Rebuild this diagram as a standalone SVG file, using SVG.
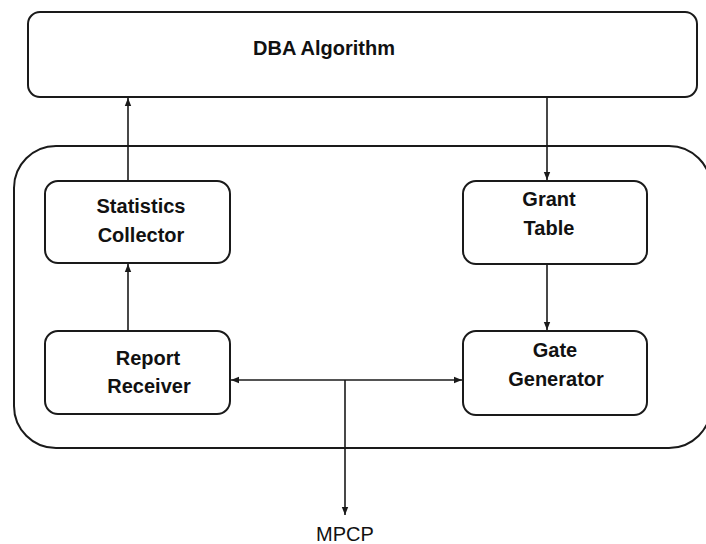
<svg xmlns="http://www.w3.org/2000/svg" width="706" height="544" viewBox="0 0 706 544">
  <style>
    .box { fill: #ffffff; stroke: #1a1a1a; stroke-width: 2; }
    .lbl { font-family: "Liberation Sans", Arial, sans-serif; font-weight: bold; font-size: 20px; fill: #111111; text-anchor: middle; }
    .ext { font-family: "Liberation Sans", Arial, sans-serif; font-size: 20px; fill: #111111; text-anchor: middle; }
    .wire { fill: none; stroke: #1a1a1a; stroke-width: 1.6; }
  </style>
  <defs>
    <marker id="head" viewBox="0 0 8 8" refX="8" refY="4" markerWidth="8" markerHeight="8" markerUnits="userSpaceOnUse" orient="auto-start-reverse">
      <path d="M0,0.8 L8,4 L0,7.2 Z" fill="#1a1a1a"/>
    </marker>
  </defs>

  <rect width="706" height="544" fill="#ffffff"/>

  <!-- OLT controller enclosure -->
  <g id="controller">
    <rect class="box" x="14" y="146" width="697" height="302" rx="42" ry="42"/>
  </g>

  <g id="dba">
    <rect class="box" x="28" y="12" width="669" height="85" rx="12" ry="12"/>
    <text class="lbl" x="324" y="55" font-size="21">DBA Algorithm</text>
  </g>

  <g id="stats">
    <rect class="box" x="45" y="181" width="185" height="82" rx="13" ry="13"/>
    <text class="lbl" x="141" y="213">Statistics</text>
    <text class="lbl" x="141" y="242">Collector</text>
  </g>

  <g id="report">
    <rect class="box" x="45" y="331" width="185" height="83" rx="13" ry="13"/>
    <text class="lbl" x="148" y="365">Report</text>
    <text class="lbl" x="149" y="393">Receiver</text>
  </g>

  <g id="grant">
    <rect class="box" x="463" y="181" width="184" height="83" rx="13" ry="13"/>
    <text class="lbl" x="549" y="206">Grant</text>
    <text class="lbl" x="549" y="235">Table</text>
  </g>

  <g id="gate">
    <rect class="box" x="463" y="331" width="184" height="84" rx="13" ry="13"/>
    <text class="lbl" x="555" y="357">Gate</text>
    <text class="lbl" x="556" y="386">Generator</text>
  </g>

  <g id="mpcp">
    <text class="ext" x="345" y="541">MPCP</text>
  </g>

  <g id="connectors">
    <line class="wire" x1="128" y1="181" x2="128" y2="98" marker-end="url(#head)"/>
    <line class="wire" x1="547" y1="97" x2="547" y2="180" marker-end="url(#head)"/>
    <line class="wire" x1="128" y1="331" x2="128" y2="264" marker-end="url(#head)"/>
    <line class="wire" x1="547" y1="264" x2="547" y2="330" marker-end="url(#head)"/>
    <line class="wire" x1="231" y1="380" x2="462" y2="380" marker-start="url(#head)" marker-end="url(#head)"/>
    <line class="wire" x1="345" y1="380" x2="345" y2="515" marker-end="url(#head)"/>
  </g>
</svg>
